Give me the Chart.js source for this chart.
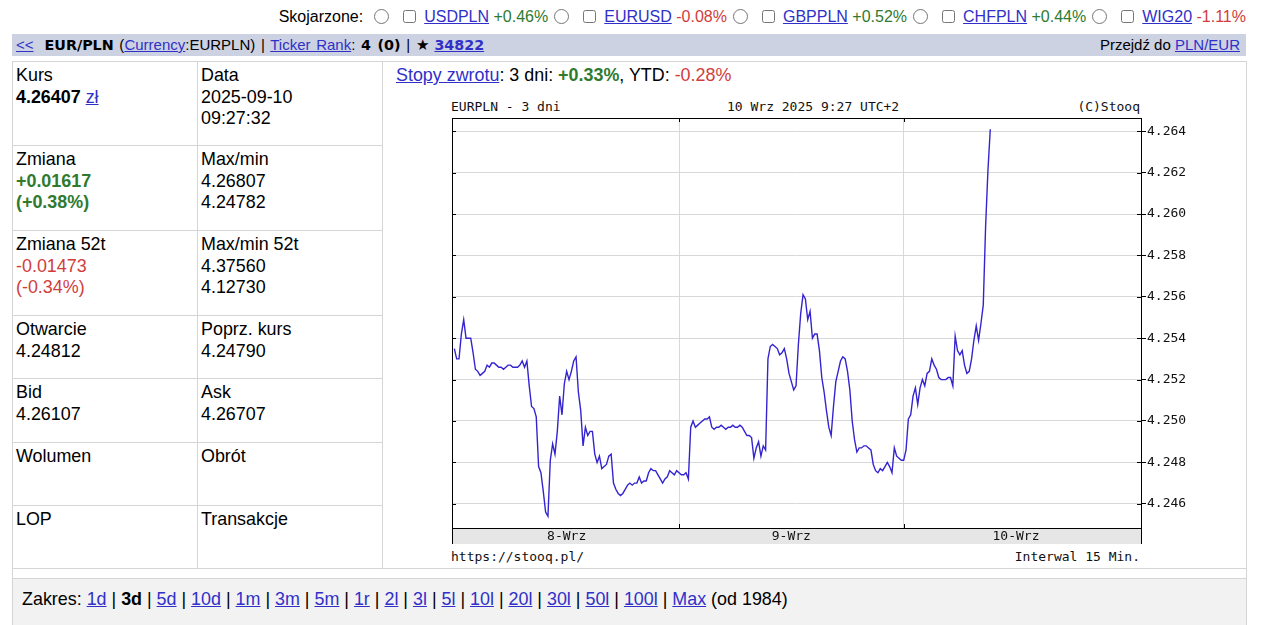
<!DOCTYPE html>
<html>
<head>
<meta charset="utf-8">
<title>EUR/PLN - stooq</title>
<script src="https://cdn.jsdelivr.net/npm/chart.js@4.4.0/dist/chart.umd.min.js"></script>
<style>
  body { margin: 0; width: 1268px; height: 625px; position: relative; overflow: hidden;
         font-family: "Liberation Sans", Arial, sans-serif; color: #000; background: #fff; }
  a { color: #3030c8; }
  .g { color: #2f7a2f; }
  .r { color: #d23c3c; }
  .abs { position: absolute; }
  .ln { position: absolute; background: #d5d5d5; }
  #assoc { position: absolute; right: 22px; top: 8px; font-size: 16px; white-space: nowrap; }
  #assoc .rd { margin: 0 0 0 6px; width: 15px; height: 15px; vertical-align: -2px; }
  #assoc .rd.first { margin-left: 11px; }
  #assoc .cb { margin: 0 8px 0 14px; width: 13px; height: 13px; vertical-align: -1px; }
  #bar { left: 12px; top: 34px; width: 1234px; height: 22px; background: #cdd2e2;
         font-size: 15px; line-height: 22px; white-space: nowrap; }
  #bar .left { margin-left: 4px; word-spacing: 1.5px; }
  #bar b { font-family: "DejaVu Sans", Verdana, sans-serif; font-size: 14.3px; }
  .txt { position: absolute; font-size: 17.9px; line-height: 21.5px; white-space: nowrap; }
  .mono { position: absolute; font-family: "DejaVu Sans Mono", monospace; font-size: 13px;
          line-height: 16px; white-space: nowrap; color: #111; }
  #foot { left: 13px; top: 579px; width: 1233px; height: 46px; background: #f2f2f2; }
  #chartBox { position: absolute; left: 440px; top: 95px; width: 751px; height: 449px; }
</style>
</head>
<body>

<div id="assoc">Skojarzone:<input type="radio" class="rd first"><input type="checkbox" class="cb"><a href="#">USDPLN</a> <span class="g">+0.46%</span><input type="radio" class="rd"><input type="checkbox" class="cb"><a href="#">EURUSD</a> <span class="r">-0.08%</span><input type="radio" class="rd"><input type="checkbox" class="cb"><a href="#">GBPPLN</a> <span class="g">+0.52%</span><input type="radio" class="rd"><input type="checkbox" class="cb"><a href="#">CHFPLN</a> <span class="g">+0.44%</span><input type="radio" class="rd"><input type="checkbox" class="cb"><a href="#">WIG20</a> <span class="r">-1.11%</span></div>

<div id="bar" class="abs">
  <span class="left"><a href="#">&lt;&lt;</a><span style="margin-left:11px"></span><b>EUR/PLN</b> (<a href="#">Currency</a>:EURPLN) | <a href="#">Ticker Rank</a>: <b>4 (0)</b> | &#9733; <b><a href="#">34822</a></b></span>
  <span class="abs" style="right:6px;top:0">Przejdź do <a href="#">PLN/EUR</a></span>
</div>

<!-- linie tabeli -->
<div class="ln" style="left:12px;top:61px;width:1px;height:564px"></div>
<div class="ln" style="left:197px;top:61px;width:1px;height:507px"></div>
<div class="ln" style="left:382px;top:61px;width:1px;height:507px"></div>
<div class="ln" style="left:1246px;top:61px;width:1px;height:564px"></div>
<div class="ln" style="left:12px;top:61px;width:1235px;height:1px"></div>
<div class="ln" style="left:12px;top:145px;width:371px;height:1px"></div>
<div class="ln" style="left:12px;top:230px;width:371px;height:1px"></div>
<div class="ln" style="left:12px;top:315px;width:371px;height:1px"></div>
<div class="ln" style="left:12px;top:378px;width:371px;height:1px"></div>
<div class="ln" style="left:12px;top:442px;width:371px;height:1px"></div>
<div class="ln" style="left:12px;top:505px;width:371px;height:1px"></div>
<div class="ln" style="left:12px;top:568px;width:1235px;height:1px"></div>
<div class="ln" style="left:12px;top:578px;width:1235px;height:1px"></div>
<div id="foot" class="abs"></div>

<!-- komórki -->
<div class="txt" style="left:16px;top:65px">Kurs<br><b>4.26407</b> <a href="#">zł</a></div>
<div class="txt" style="left:201px;top:65px">Data<br>2025-09-10<br>09:27:32</div>
<div class="txt" style="left:16px;top:149px">Zmiana<br><b class="g">+0.01617<br>(+0.38%)</b></div>
<div class="txt" style="left:201px;top:149px">Max/min<br>4.26807<br>4.24782</div>
<div class="txt" style="left:16px;top:234px">Zmiana 52t<br><span class="r">-0.01473<br>(-0.34%)</span></div>
<div class="txt" style="left:201px;top:234px">Max/min 52t<br>4.37560<br>4.12730</div>
<div class="txt" style="left:16px;top:319px">Otwarcie<br>4.24812</div>
<div class="txt" style="left:201px;top:319px">Poprz. kurs<br>4.24790</div>
<div class="txt" style="left:16px;top:382px">Bid<br>4.26107</div>
<div class="txt" style="left:201px;top:382px">Ask<br>4.26707</div>
<div class="txt" style="left:16px;top:446px">Wolumen</div>
<div class="txt" style="left:201px;top:446px">Obrót</div>
<div class="txt" style="left:16px;top:509px">LOP</div>
<div class="txt" style="left:201px;top:509px">Transakcje</div>

<div class="txt" style="left:396px;top:65px"><a href="#">Stopy zwrotu</a>: 3 dni: <b class="g">+0.33%</b>, YTD: <span class="r">-0.28%</span></div>

<div class="txt" style="left:22px;top:589px">Zakres: <a href="#">1d</a> | <b>3d</b> | <a href="#">5d</a> | <a href="#">10d</a> | <a href="#">1m</a> | <a href="#">3m</a> | <a href="#">5m</a> | <a href="#">1r</a> | <a href="#">2l</a> | <a href="#">3l</a> | <a href="#">5l</a> | <a href="#">10l</a> | <a href="#">20l</a> | <a href="#">30l</a> | <a href="#">50l</a> | <a href="#">100l</a> | <a href="#">Max</a> (od 1984)</div>

<!-- napisy wykresu -->
<div class="mono" style="left:451px;top:99px">EURPLN - 3 dni</div>
<div class="mono" style="left:727px;top:99px">10 Wrz 2025 9:27 UTC+2</div>
<div class="mono" style="right:128px;top:99px">(C)Stooq</div>
<div class="mono" style="left:451px;top:549px">https://stooq.pl/</div>
<div class="mono" style="right:128px;top:549px">Interwal 15 Min.</div>

<div id="chartBox"><canvas id="eurplnChart"></canvas></div>

<script>
// dane wykresu: EURPLN, interwał 15 min, od 8 Wrz 00:00
const dayLabels = ['8-Wrz', '9-Wrz', '10-Wrz'];
const rateTicks = [4.246, 4.248, 4.250, 4.252, 4.254, 4.256, 4.258, 4.260, 4.262, 4.264];
const stepHours = 0.25;
const eurpln = [
  4.2535, 4.2530, 4.2530, 4.2542, 4.2549, 4.2540, 4.2540, 4.2540, 4.2533, 4.2525,
  4.2524, 4.2522, 4.2523, 4.2524, 4.2527, 4.2526, 4.2528, 4.2528, 4.2527, 4.2526,
  4.2526, 4.2525, 4.2526, 4.2527, 4.2527, 4.2526, 4.2526, 4.2526, 4.2527, 4.2529,
  4.2526, 4.2529, 4.2517, 4.2507, 4.2506, 4.2502, 4.2478, 4.2475, 4.2466, 4.2456,
  4.2454, 4.2481, 4.2489, 4.2484, 4.2495, 4.2512, 4.2503, 4.2518, 4.2524, 4.2520,
  4.2524, 4.2529, 4.2531, 4.2514, 4.2505, 4.2488, 4.2497, 4.2493, 4.2495, 4.2495,
  4.2484, 4.2480, 4.2483, 4.2477, 4.2478, 4.2479, 4.2483, 4.2484, 4.2470, 4.2467,
  4.2465, 4.2464, 4.2465, 4.2467, 4.2469, 4.2470, 4.2469, 4.2470, 4.2470, 4.2473,
  4.2470, 4.2471, 4.2471, 4.2475, 4.2477, 4.2476, 4.2476, 4.2474, 4.2472, 4.2470,
  4.2472, 4.2473, 4.2476, 4.2475, 4.2474, 4.2476, 4.2475, 4.2474, 4.2474, 4.2475,
  4.2472, 4.2497, 4.2500, 4.2497, 4.2498, 4.2499, 4.2500, 4.2501, 4.2501, 4.2502,
  4.2497, 4.2496, 4.2497, 4.2497, 4.2498, 4.2497, 4.2496, 4.2497, 4.2497, 4.2498,
  4.2497, 4.2497, 4.2498, 4.2497, 4.2495, 4.2493, 4.2493, 4.2492, 4.2482, 4.2487,
  4.2490, 4.2483, 4.2488, 4.2486, 4.2530, 4.2536, 4.2537, 4.2536, 4.2535, 4.2532,
  4.2533, 4.2535, 4.2530, 4.2523, 4.2519, 4.2515, 4.2517, 4.2537, 4.2552, 4.2561,
  4.2559, 4.2549, 4.2553, 4.2540, 4.2542, 4.2542, 4.2534, 4.2521, 4.2514, 4.2505,
  4.2497, 4.2493, 4.2507, 4.2519, 4.2524, 4.2529, 4.2531, 4.2530, 4.2524, 4.2515,
  4.2500, 4.2491, 4.2485, 4.2487, 4.2487, 4.2488, 4.2488, 4.2487, 4.2486, 4.2479,
  4.2476, 4.2475, 4.2477, 4.2476, 4.2478, 4.2480, 4.2478, 4.2475, 4.2487, 4.2483,
  4.2482, 4.2481, 4.2481, 4.2486, 4.2501, 4.2503, 4.2512, 4.2516, 4.2508, 4.2516,
  4.2520, 4.2517, 4.2523, 4.2524, 4.2530, 4.2527, 4.2525, 4.2521, 4.2520, 4.2520,
  4.2520, 4.2521, 4.2521, 4.2517, 4.2541, 4.2534, 4.2532, 4.2534, 4.2527, 4.2523,
  4.2524, 4.2530, 4.2539, 4.2546, 4.2539, 4.2547, 4.2556, 4.2594, 4.2621, 4.2641
];

const monoFont = '"DejaVu Sans Mono", monospace';

// ramka, pasek z dniami i kreski jak na wykresie stooq
const stooqFrame = {
  id: 'stooqFrame',
  afterDraw(chart) {
    const { ctx, chartArea, scales } = chart;
    const { left, top, right, bottom } = chartArea;
    const bandH = 16;
    ctx.save();
    ctx.fillStyle = '#e6e6e6';
    ctx.fillRect(left, bottom, right - left, bandH);
    ctx.strokeStyle = '#000';
    ctx.lineWidth = 1;
    ctx.strokeRect(left + 0.5, top + 0.5, right - left, bottom - top);
    ctx.strokeRect(left + 0.5, bottom + 0.5, right - left, bandH);

    ctx.beginPath();
    rateTicks.forEach(v => {
      const py = Math.round(scales.y.getPixelForValue(v)) + 0.5;
      ctx.moveTo(left, py); ctx.lineTo(left + 4, py);
      ctx.moveTo(right - 4, py); ctx.lineTo(right, py);
    });
    for (let k = 1; k < dayLabels.length; k++) {
      const px = Math.round(scales.x.getPixelForValue(k * 24)) + 0.5;
      ctx.moveTo(px, top); ctx.lineTo(px, top + 4);
      ctx.moveTo(px, bottom); ctx.lineTo(px, bottom - 4);
    }
    ctx.stroke();

    ctx.fillStyle = '#111';
    ctx.font = '13px ' + monoFont;
    ctx.textAlign = 'center';
    ctx.textBaseline = 'middle';
    dayLabels.forEach((d, k) => {
      ctx.fillText(d, scales.x.getPixelForValue(k * 24 + 12), bottom + bandH / 2 + 1);
    });
    ctx.restore();
  }
};

const ctx = document.getElementById('eurplnChart').getContext('2d');
new Chart(ctx, {
  type: 'line',
  data: {
    datasets: [{
      label: 'EURPLN',
      data: eurpln.map((v, i) => ({ x: i * stepHours, y: v })),
      borderColor: '#3424d0',
      borderWidth: 1.4,
      pointRadius: 0,
      tension: 0,
      fill: false
    }]
  },
  options: {
    animation: false,
    responsive: true,
    maintainAspectRatio: false,
    layout: { padding: { left: 12, top: 23, right: 0, bottom: 0 } },
    plugins: { legend: { display: false }, tooltip: { enabled: false } },
    scales: {
      x: {
        type: 'linear',
        min: -0.25,
        max: 73.35,
        grid: { color: '#d8d8d8', drawTicks: false },
        border: { display: true, color: '#000' },
        ticks: { display: false },
        afterBuildTicks: (scale) => {
          scale.ticks = dayLabels.slice(1).map((d, k) => ({ value: (k + 1) * 24 }));
        },
        afterFit: (scale) => { scale.height = 16; }
      },
      y: {
        position: 'right',
        min: 4.24483,
        max: 4.26464,
        grid: { color: '#d8d8d8', tickLength: 5, tickColor: '#000' },
        border: { display: true, color: '#000' },
        ticks: {
          color: '#111',
          padding: 1,
          font: { family: monoFont, size: 13 },
          callback: (v) => v.toFixed(3)
        },
        afterBuildTicks: (scale) => {
          scale.ticks = rateTicks.map(v => ({ value: v }));
        },
        afterFit: (scale) => { scale.width = 50; }
      }
    }
  },
  plugins: [stooqFrame]
});
</script>
</body>
</html>
